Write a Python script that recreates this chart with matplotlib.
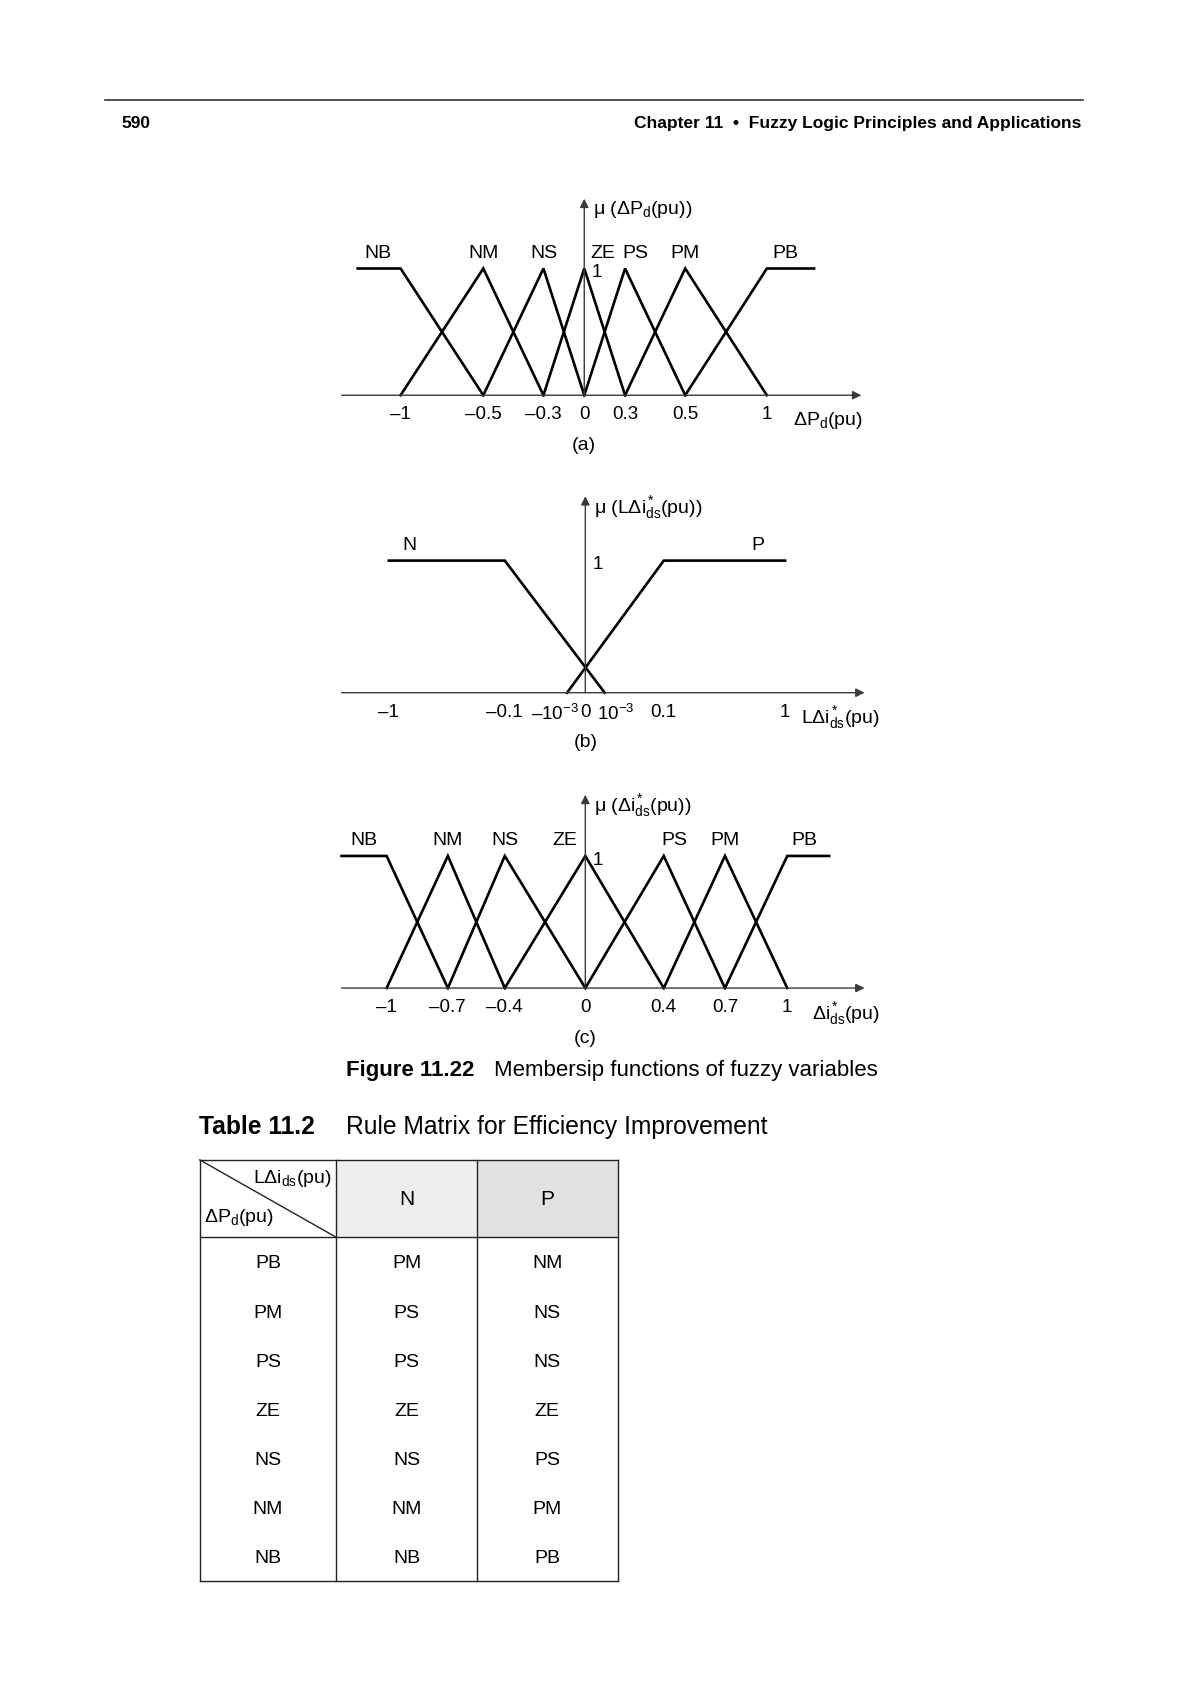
#plot.py - membership functions page (figure 11.22 + table 11.2)

import matplotlib.pyplot as plt
import numpy as np
from matplotlib.transforms import ScaledTranslation

plt.rcParams['font.family'] = ['Liberation Sans', 'DejaVu Sans']
plt.rcParams['mathtext.fontset'] = 'custom'
plt.rcParams['mathtext.rm'] = 'Liberation Sans'
plt.rcParams['mathtext.it'] = 'Liberation Sans'
plt.rcParams['mathtext.bf'] = 'Liberation Sans:bold'
plt.rcParams['mathtext.default'] = 'regular'

# ---- data ----
# (a) delta P_d
a_names = ["NB", "NM", "NS", "ZE", "PS", "PM", "PB"]
a_mf_x = [[-1.25, -1, -0.5], [-1, -0.5, -0.3], [-0.5, -0.3, 0], [-0.3, 0, 0.3],
          [0, 0.3, 0.5], [0.3, 0.5, 1], [0.5, 1, 1.25]]
a_mf_y = [[1, 1, 0], [0, 1, 0], [0, 1, 0], [0, 1, 0], [0, 1, 0], [0, 1, 0], [0, 1, 1]]
a_ticks = [-1, -0.5, -0.3, 0, 0.3, 0.5, 1]
a_ticklabels = ["\u20131", "\u20130.5", "\u20130.3", "0", "0.3", "0.5", "1"]

# (b) L delta i_ds
b_names = ["N", "P"]
b_mf_x = [[-1, -0.1, 0.001], [-0.001, 0.1, 1]]
b_mf_y = [[1, 1, 0], [0, 1, 1]]
b_ticks = [-1, -0.1, -0.001, 0, 0.001, 0.1, 1]
b_ticklabels = ["\u20131", "\u20130.1", "\u201310$^{-3}$", "0", "10$^{-3}$", "0.1", "1"]

# (c) delta i_ds
c_names = ["NB", "NM", "NS", "ZE", "PS", "PM", "PB"]
c_mf_x = [[-1.2, -1, -0.7], [-1, -0.7, -0.4], [-0.7, -0.4, 0], [-0.4, 0, 0.4],
          [0, 0.4, 0.7], [0.4, 0.7, 1], [0.7, 1, 1.2]]
c_mf_y = [[1, 1, 0], [0, 1, 0], [0, 1, 0], [0, 1, 0], [0, 1, 0], [0, 1, 0], [0, 1, 1]]
c_ticks = [-1, -0.7, -0.4, 0, 0.4, 0.7, 1]
c_ticklabels = ["\u20131", "\u20130.7", "\u20130.4", "0", "0.4", "0.7", "1"]

# table 11.2
row_labels = ["PB", "PM", "PS", "ZE", "NS", "NM", "NB"]
col_labels = ["N", "P"]
col_N = ["PM", "PS", "PS", "ZE", "NS", "NM", "NB"]
col_P = ["NM", "NS", "NS", "ZE", "PS", "PM", "PB"]

# ---- layout (page drawn in 1108 x 1568 units) ----
W, H = 1108.0, 1568.0
fig = plt.figure(figsize=(11.9, 16.84), dpi=100)
page = fig.add_axes([0, 0, 1, 1])
page.set_xlim(0, W)
page.set_ylim(H, 0)
page.axis('off')

AX_C = '#3a3a3a'


def panel(knot_v, knot_px, base, peak, top, mf_x, mf_y, names, name_x,
          ticks, ticklabels, mu_label, xlabel, xlabel_dx, tag):
    x0, x1 = knot_px[0], knot_px[-1]
    ax = fig.add_axes([x0 / W, 1 - base / H, (x1 - x0) / W, (base - top) / H])
    fwd = lambda v: np.interp(v, knot_v, knot_px)
    inv = lambda p: np.interp(p, knot_px, knot_v)
    ax.set_xscale('function', functions=(fwd, inv))
    ax.set_xlim(knot_v[0], knot_v[-1])
    ymax = (base - top) / (base - peak)
    ax.set_ylim(0, ymax)
    for s in ax.spines.values():
        s.set_visible(False)
    ax.patch.set_visible(False)
    ax.set_yticks([])
    ax.set_xticks(ticks, ticklabels)
    ax.tick_params(axis='x', length=0, pad=8, labelsize=13.5)
    # axes with arrows
    ax.annotate('', xy=(knot_v[-1], 0), xytext=(knot_v[0], 0),
                arrowprops=dict(arrowstyle='-|>', color=AX_C, lw=1.0,
                                mutation_scale=13, shrinkA=0, shrinkB=0),
                annotation_clip=False)
    ax.annotate('', xy=(0, ymax), xytext=(0, 0),
                arrowprops=dict(arrowstyle='-|>', color=AX_C, lw=1.0,
                                mutation_scale=13, shrinkA=0, shrinkB=0),
                annotation_clip=False)
    for xs, ys in zip(mf_x, mf_y):
        ax.plot(xs, ys, color='black', lw=1.9, clip_on=False,
                solid_joinstyle='miter')
    for n, nx in zip(names, name_x):
        ax.annotate(n, (nx, 1), xytext=(0, 11), textcoords='offset points',
                    ha='center', va='center', fontsize=14)
    ax.annotate('1', (0, 1), xytext=(5, -3), textcoords='offset points',
                ha='left', va='center', fontsize=13.5)
    ax.annotate(mu_label, (0, ymax), xytext=(6, -8), textcoords='offset points',
                ha='left', va='center', fontsize=14)
    ax.annotate(xlabel, (knot_v[-1], 0), xytext=(xlabel_dx, -18),
                textcoords='offset points', ha='right', va='center', fontsize=14)
    ax.annotate(tag, (0, 0), xytext=(0, -36), textcoords='offset points',
                ha='center', va='center', fontsize=14)
    return ax


# (a)
panel([-1.45, -1.25, -1, -0.5, -0.3, 0, 0.3, 0.5, 1, 1.25, 1.5],
      [318, 333, 373, 450, 506, 544, 582, 638, 714, 758, 802],
      368, 250, 185, a_mf_x, a_mf_y, a_names,
      [-1.13, -0.5, -0.3, 0.135, 0.335, 0.5, 1.1],
      a_ticks, a_ticklabels, "\u03bc (\u0394P$_d$(pu))", "\u0394P$_d$(pu)", 1, "(a)")

# (b)
axb = panel([-1.2, -1, -0.1, -0.001, 0, 0.001, 0.1, 1, 1.25],
            [318, 362, 470, 528, 545, 563, 618, 731, 805],
            645, 522, 462, b_mf_x, b_mf_y, b_names, [-0.84, 0.8],
            b_ticks, b_ticklabels, "\u03bc (L\u0394i$^*_{ds}$(pu))",
            "L\u0394i$^*_{ds}$(pu)", 11, "(b)")
for lbl, dx in zip(axb.get_xticklabels(), [0, 0, -9, 0, 8, 0, 0]):
    lbl.set_transform(lbl.get_transform() + ScaledTranslation(dx / 72, 0, fig.dpi_scale_trans))

# (c)
panel([-1.2, -1, -0.7, -0.4, 0, 0.4, 0.7, 1, 1.2, 1.4],
      [318, 360, 417, 470, 545, 618, 675, 733, 772, 805],
      920, 797, 740, c_mf_x, c_mf_y, c_names,
      [-1.1, -0.7, -0.4, -0.1, 0.45, 0.7, 1.08],
      c_ticks, c_ticklabels, "\u03bc (\u0394i$^*_{ds}$(pu))",
      "\u0394i$^*_{ds}$(pu)", 11, "(c)")

# ---- page header ----
page.plot([98, 1008], [93, 93], color='#333333', lw=1.2)
page.text(113, 115, "590", ha='left', va='center', fontsize=12.5, fontweight='bold')
page.text(1007, 115, "Chapter 11  \u2022  Fuzzy Logic Principles and Applications",
          ha='right', va='center', fontsize=12.5, fontweight='bold')

# ---- caption ----
page.text(322, 997, "Figure 11.22", ha='left', va='center', fontsize=16, fontweight='bold')
page.text(460, 997, "Membersip functions of fuzzy variables", ha='left', va='center',
          fontsize=16)

# ---- table ----
page.text(185, 1049, "Table 11.2", ha='left', va='center', fontsize=17.7, fontweight='bold')
page.text(322, 1049, "Rule Matrix for Efficiency Improvement", ha='left', va='center',
          fontsize=17.7)

xs = [186, 313, 444, 575]
ytop, yhead, ybot = 1080, 1152, 1472
page.fill_between([xs[1], xs[2]], ytop, yhead, color='#eeeeee', lw=0)
page.fill_between([xs[2], xs[3]], ytop, yhead, color='#e2e2e2', lw=0)
for x in xs:
    page.plot([x, x], [ytop, ybot], color='#222222', lw=1.0)
for y in [ytop, yhead, ybot]:
    page.plot([xs[0], xs[-1]], [y, y], color='#222222', lw=1.0)
page.plot([xs[0], xs[1]], [ytop, yhead], color='#222222', lw=1.0)
page.text(309, 1097, "L\u0394i$_{ds}$(pu)", ha='right', va='center', fontsize=14)
page.text(190, 1134, "\u0394P$_d$(pu)", ha='left', va='center', fontsize=14)
for j, c in enumerate(col_labels):
    page.text((xs[j + 1] + xs[j + 2]) / 2, 1117, c, ha='center', va='center', fontsize=15)

row_h = (ybot - yhead) / len(row_labels)
for i in range(len(row_labels)):
    yc = yhead + row_h * (i + 0.5) + 2
    for j, vals in enumerate([row_labels, col_N, col_P]):
        page.text((xs[j] + xs[j + 1]) / 2, yc, vals[i], ha='center', va='center',
                  fontsize=14)

fig.savefig('out.png', dpi=100)
